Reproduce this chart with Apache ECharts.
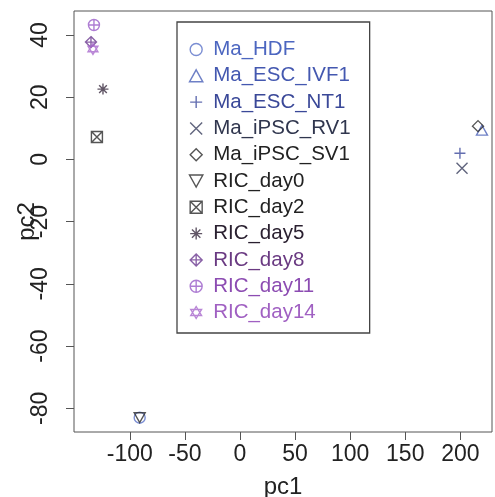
<!DOCTYPE html>
<html>
<head>
    <meta charset="UTF-8">
    <title>pc1 / pc2</title>
    <script src="https://cdn.jsdelivr.net/npm/echarts@6/dist/echarts.min.js"></script>
    <style>
        body { margin: 0; padding: 0; background: #fff; }
        #main { width: 495px; height: 497px; }
    </style>
</head>
<body>
<div id="main"></div>
<script>
    // samples, in legend order
    var names = ['Ma_HDF', 'Ma_ESC_IVF1', 'Ma_ESC_NT1', 'Ma_iPSC_RV1', 'Ma_iPSC_SV1',
        'RIC_day0', 'RIC_day2', 'RIC_day5', 'RIC_day8', 'RIC_day11', 'RIC_day14'];
    var pc1 = [-91, 219.6, 199.6, 201.5, 216, -91, -129.8, -124.3, -135.2, -132.5, -133.4];
    var pc2 = [-83, 9.4, 2, -2.8, 10.7, -83, 7.2, 22.6, 37.7, 43.2, 35.5];
    var xTicks = [-100, -50, 0, 50, 100, 150, 200];
    var yTicks = [-80, -60, -40, -20, 0, 20, 40];

    var colors = ['#5a72c8', '#4a60b8', '#3c4a9c', '#3a3f5e', '#2a2a2a',
        '#2a2a2a', '#2a2a2a', '#3a2c40', '#6c3a90', '#9a5cc8', '#a868cc'];
    var textColors = ['#4c66c0', '#4458b0', '#3a4898', '#30364e', '#222222',
        '#222222', '#222222', '#2a2030', '#6a3a82', '#8c4cb2', '#a060c2'];

    // R style pch marks
    var marks = [
        'path://M0,10 A10,10 0 1,1 20,10 A10,10 0 1,1 0,10 Z',
        'path://M10,1 L20,19 L0,19 Z',
        'path://M0,10 L20,10 M10,0 L10,20',
        'path://M1,1 L19,19 M19,1 L1,19',
        'path://M10,0 L20,10 L10,20 L0,10 Z',
        'path://M0,1 L20,1 L10,19 Z',
        'path://M0,0 L20,0 L20,20 L0,20 Z M0,0 L20,20 M20,0 L0,20',
        'path://M0,10 L20,10 M10,0 L10,20 M3,3 L17,17 M17,3 L3,17',
        'path://M10,0 L20,10 L10,20 L0,10 Z M0,10 L20,10 M10,0 L10,20',
        'path://M0,10 A10,10 0 1,1 20,10 A10,10 0 1,1 0,10 Z M0,10 L20,10 M10,0 L10,20',
        'path://M10,0 L19,15 L1,15 Z M10,20 L1,5 L19,5 Z'
    ];

    var font = '"Liberation Sans", Arial, sans-serif';
    var chart = echarts.init(document.getElementById('main'), null, {renderer: 'canvas'});

    var series = [];
    for (var i = 0; i < names.length; i++) {
        series.push({
            name: names[i],
            type: 'scatter',
            data: [[pc1[i], pc2[i]]],
            symbol: marks[i],
            symbolSize: 11,
            symbolKeepAspect: true,
            itemStyle: {color: 'none', borderColor: colors[i], borderWidth: 1.4},
            emphasis: {disabled: true},
            silent: true
        });
    }

    var option = {
        animation: false,
        textStyle: {fontFamily: font},
        grid: {
            left: 74, right: 3, top: 11, bottom: 65,
            outerBoundsMode: 'none', containLabel: false,
            show: true, borderColor: '#555', borderWidth: 1
        },
        legend: {
            orient: 'vertical',
            left: 177,
            top: 22,
            padding: [17, 19, 10, 10],
            itemWidth: 24,
            itemHeight: 12,
            itemGap: 5.3,
            borderColor: '#444',
            borderWidth: 1.3,
            selectedMode: false,
            itemStyle: {borderWidth: 1.4},
            textStyle: {fontSize: 20.5, fontFamily: font},
            data: names.map(function (n, i) {
                return {name: n, textStyle: {color: textColors[i]}};
            })
        },
        xAxis: {
            type: 'value',
            min: -150.6,
            max: 228.7,
            name: 'pc1',
            nameLocation: 'middle',
            nameGap: 43,
            nameMoveOverlap: false,
            nameTextStyle: {fontSize: 24, color: '#222'},
            axisLine: {show: false, onZero: false},
            splitLine: {show: false},
            axisTick: {show: true, length: 8, lineStyle: {color: '#555'}, customValues: xTicks},
            axisLabel: {fontSize: 23, color: '#222', margin: 11, customValues: xTicks}
        },
        yAxis: {
            type: 'value',
            min: -87.6,
            max: 47.7,
            name: 'pc2',
            nameLocation: 'middle',
            nameGap: 35,
            nameMoveOverlap: false,
            nameTextStyle: {fontSize: 24, color: '#222'},
            axisLine: {show: false, onZero: false},
            splitLine: {show: false},
            axisTick: {show: true, length: 8, lineStyle: {color: '#555'}, customValues: yTicks},
            axisLabel: {fontSize: 23, color: '#222', margin: 22, rotate: 90, customValues: yTicks}
        },
        series: series
    };
    chart.setOption(option);
</script>
</body>
</html>
